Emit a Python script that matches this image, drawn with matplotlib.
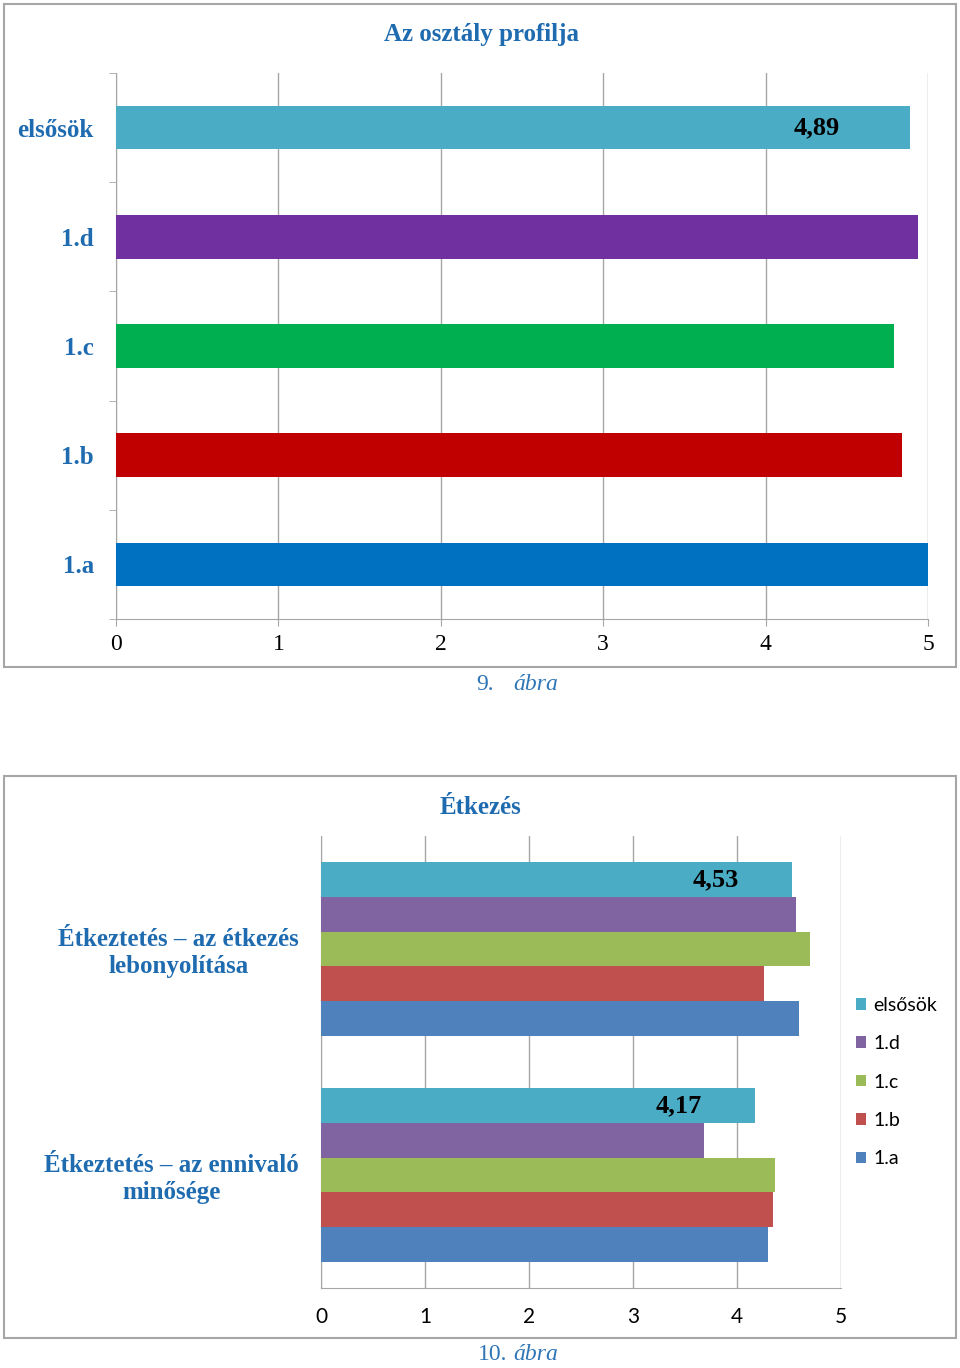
import matplotlib
matplotlib.use("Agg")
import matplotlib.pyplot as plt
import numpy as np
from matplotlib.patches import Rectangle

# ---- data ----
classes1 = ["1.a", "1.b", "1.c", "1.d", "elsősök"]          # bottom -> top
values1 = [5.00, 4.84, 4.79, 4.94, 4.89]
colors1 = ["#0070C0", "#C00000", "#00B050", "#7030A0", "#4BACC6"]
title1 = "Az osztály profilja"

categories2 = ["Étkeztetés – az ennivaló\nminősége", "Étkeztetés – az étkezés\nlebonyolítása"]  # bottom -> top
series2 = ["elsősök", "1.d", "1.c", "1.b", "1.a"]           # top -> bottom inside a group
values2 = {
    "elsősök": [4.17, 4.53],
    "1.d": [3.68, 4.57],
    "1.c": [4.37, 4.70],
    "1.b": [4.35, 4.26],
    "1.a": [4.30, 4.60],
}
colors2 = {"elsősök": "#4BACC6", "1.d": "#8064A2", "1.c": "#9BBB59", "1.b": "#C0504D", "1.a": "#4F81BD"}
title2 = "Étkezés"
xticks = [0, 1, 2, 3, 4, 5]

W, H = 960, 1368
BLUE = "#1F6BB0"
CAP = "#2E75B6"
GRID = "#A6A6A6"
SERIF = "Liberation Serif"
SANS = "Lato"

fig = plt.figure(figsize=(W / 100, H / 100), dpi=100)


def px_axes(x0, y0, x1, y1):
    return fig.add_axes([x0 / W, 1 - y1 / H, (x1 - x0) / W, (y1 - y0) / H])


def frame(x0, y0, x1, y1):
    fig.patches.append(Rectangle((x0 / W, 1 - y1 / H), (x1 - x0) / W, (y1 - y0) / H,
                                 transform=fig.transFigure, fill=False,
                                 edgecolor=GRID, linewidth=1.5))


# ================= chart 1 =================
frame(4, 4, 956, 667)
ax1 = px_axes(116, 73, 928, 619)
y1 = np.arange(len(classes1))
ax1.barh(y1, values1, height=0.40, color=colors1, zorder=3)
ax1.set_xlim(0, 5)
ax1.set_ylim(-0.5, len(classes1) - 0.5)
ax1.set_xticks(xticks)
ax1.set_yticks(y1)
ax1.set_yticklabels(classes1, fontfamily=SERIF, fontweight="bold", fontsize=18, color=BLUE)
ax1.set_yticks(np.arange(-0.5, len(classes1)), minor=True)
ax1.tick_params(axis="y", which="major", length=0, pad=16)
ax1.tick_params(axis="y", which="minor", length=5, color=GRID, direction="out")
ax1.tick_params(axis="x", length=5, color=GRID, pad=6, labelsize=17)
for lab in ax1.get_xticklabels():
    lab.set_fontfamily(SERIF)
ax1.grid(axis="x", color=GRID, linewidth=1, zorder=0)
for s in ["top", "right"]:
    ax1.spines[s].set_visible(False)
for s in ["left", "bottom"]:
    ax1.spines[s].set_color(GRID)
ax1.annotate(f"{values1[-1]:.2f}".replace(".", ","), xy=(values1[-1], y1[-1]), xytext=(-70, 0),
             textcoords="offset pixels", ha="right", va="center",
             fontfamily=SERIF, fontweight="bold", fontsize=19, color="black", zorder=5)
fig.text(482 / W, 1 - 34 / H, title1, ha="center", va="center",
         fontfamily=SERIF, fontweight="bold", fontsize=18, color=BLUE)
fig.text(485 / W, 1 - 684 / H, "9.", ha="center", va="center",
         fontfamily=SERIF, fontsize=17, color=CAP)
fig.text(536 / W, 1 - 684 / H, "ábra", ha="center", va="center",
         fontfamily=SERIF, fontstyle="italic", fontsize=17, color=CAP)

# ================= chart 2 =================
frame(4, 776, 956, 1338)
ax2 = px_axes(321, 836, 841, 1288)
ycat = np.arange(len(categories2))
bw = 0.154
handles = []
for i, name in enumerate(series2):
    off = (2 - i) * bw
    b = ax2.barh(ycat + off, values2[name], height=bw, color=colors2[name], label=name, zorder=3)
    handles.append(b)
    if name == "elsősök":
        for yy, v in zip(ycat + off, values2[name]):
            ax2.annotate(f"{v:.2f}".replace(".", ","), xy=(v, yy), xytext=(-53, 0),
                         textcoords="offset pixels", ha="right", va="center",
                         fontfamily=SERIF, fontweight="bold", fontsize=19,
                         color="black", zorder=5)
ax2.set_xlim(0, 5)
ax2.set_ylim(-0.5, len(categories2) - 0.5)
ax2.set_xticks(xticks)
ax2.set_yticks(ycat)
ax2.set_yticklabels(categories2, fontfamily=SERIF, fontweight="bold", fontsize=18,
                    color=BLUE, multialignment="center", linespacing=1.2)
ax2.tick_params(axis="y", length=0, pad=16)
ax2.tick_params(axis="x", length=0, pad=14, labelsize=15)
for lab in ax2.get_xticklabels():
    lab.set_fontfamily(SANS)
ax2.grid(axis="x", color=GRID, linewidth=1, zorder=0)
for s in ["top", "right"]:
    ax2.spines[s].set_visible(False)
for s in ["left", "bottom"]:
    ax2.spines[s].set_color(GRID)
fig.legend(handles=handles, labels=series2, loc="upper left",
           bbox_to_anchor=(846 / W, 1 - 987 / H), frameon=False,
           prop={"family": SANS, "size": 14}, handlelength=0.55, handleheight=0.55,
           handletextpad=0.35, labelspacing=1.1, borderpad=0)
fig.text(480 / W, 1 - 807 / H, title2, ha="center", va="center",
         fontfamily=SERIF, fontweight="bold", fontsize=18, color=BLUE)
fig.text(493 / W, 1 - 1354 / H, "10.", ha="center", va="center",
         fontfamily=SERIF, fontsize=17, color=CAP)
fig.text(536 / W, 1 - 1354 / H, "ábra", ha="center", va="center",
         fontfamily=SERIF, fontstyle="italic", fontsize=17, color=CAP)

fig.savefig("out.png", dpi=100)
